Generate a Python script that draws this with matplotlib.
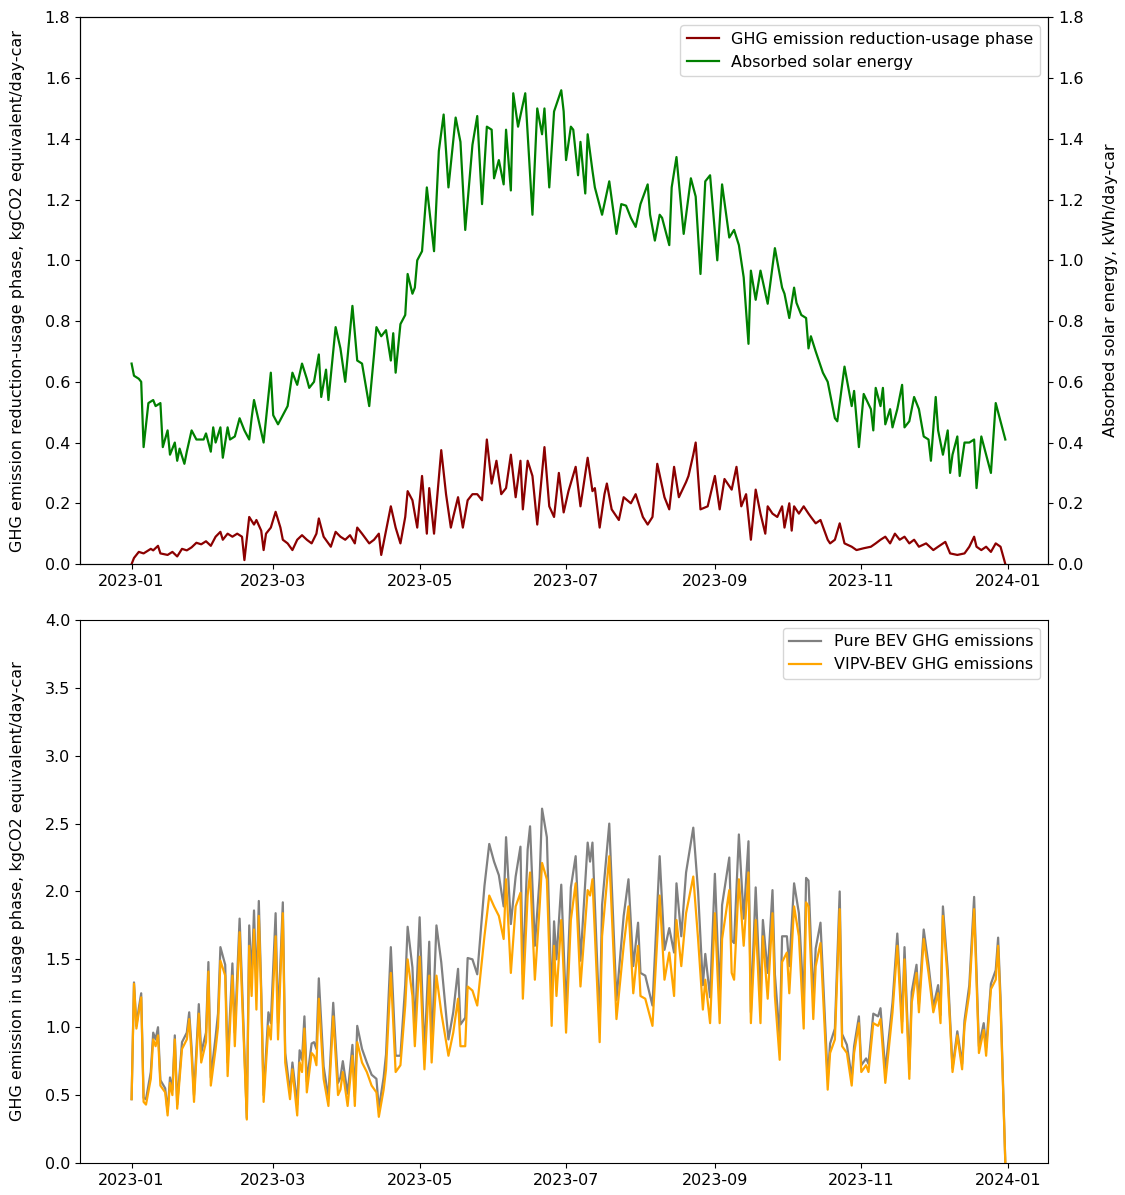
import numpy as np
import pandas as pd
import matplotlib
matplotlib.use("Agg")
import matplotlib.pyplot as plt
import matplotlib.dates as mdates

plt.rcParams["font.size"] = 11.5

start = pd.Timestamp("2023-01-01")

# (day of year offset, value)
solar = [
    (0, 0.66), (1, 0.62), (3, 0.61), (4, 0.60), (5, 0.385), (7, 0.53), (9, 0.54), (10, 0.52),
    (12, 0.53), (13, 0.385), (15, 0.44), (16, 0.36), (18, 0.40), (19, 0.34), (20, 0.38),
    (22, 0.33), (23, 0.37), (25, 0.44), (27, 0.41), (30, 0.41), (31, 0.43), (33, 0.37),
    (34, 0.45), (35, 0.40), (37, 0.45), (38, 0.35), (40, 0.45), (41, 0.41), (43, 0.42),
    (45, 0.48), (47, 0.44), (49, 0.41), (50, 0.48), (51, 0.54), (53, 0.47), (55, 0.40),
    (58, 0.63), (59, 0.49), (61, 0.46), (63, 0.49), (65, 0.52), (67, 0.63), (69, 0.59),
    (71, 0.66), (73, 0.61), (74, 0.58), (76, 0.60), (78, 0.69), (79, 0.55), (81, 0.64),
    (82, 0.54), (85, 0.78), (87, 0.71), (89, 0.60), (92, 0.85), (94, 0.67), (96, 0.66),
    (99, 0.52), (101, 0.69), (102, 0.78), (104, 0.75), (106, 0.77), (108, 0.67), (109, 0.76),
    (110, 0.63), (112, 0.79), (114, 0.82), (115, 0.955), (117, 0.89), (118, 0.91), (119, 1.0),
    (121, 1.03), (123, 1.24), (126, 1.03), (128, 1.36), (130, 1.48), (132, 1.24), (135, 1.47),
    (137, 1.39), (139, 1.10), (142, 1.38), (144, 1.475), (146, 1.185), (148, 1.44), (150, 1.43),
    (151, 1.27), (153, 1.33), (155, 1.25), (156, 1.43), (158, 1.23), (159, 1.55), (161, 1.44),
    (164, 1.55), (167, 1.15), (169, 1.50), (171, 1.415), (172, 1.50), (174, 1.24), (176, 1.49),
    (179, 1.56), (180, 1.49), (181, 1.33), (183, 1.44), (184, 1.43), (186, 1.28), (187, 1.39),
    (189, 1.22), (190, 1.415), (192, 1.295), (193, 1.24), (196, 1.15), (199, 1.26), (202, 1.087),
    (204, 1.185), (206, 1.18), (208, 1.14), (210, 1.11), (212, 1.185), (215, 1.25), (216, 1.15),
    (218, 1.065), (220, 1.15), (221, 1.14), (224, 1.05), (225, 1.24), (227, 1.34), (230, 1.087),
    (233, 1.27), (235, 1.21), (237, 0.955), (239, 1.26), (241, 1.28), (244, 1.0), (246, 1.25),
    (249, 1.075), (251, 1.10), (253, 1.05), (255, 0.944), (257, 0.725), (258, 0.966), (260, 0.87),
    (262, 0.966), (265, 0.857), (268, 1.04), (271, 0.91), (272, 0.89), (274, 0.81), (276, 0.91),
    (277, 0.86), (279, 0.82), (281, 0.81), (282, 0.71), (283, 0.75), (285, 0.70), (288, 0.63),
    (290, 0.60), (293, 0.48), (294, 0.47), (297, 0.65), (300, 0.52), (301, 0.57), (303, 0.385),
    (305, 0.56), (308, 0.51), (309, 0.44), (310, 0.58), (312, 0.52), (313, 0.58), (314, 0.46),
    (316, 0.51), (317, 0.45), (319, 0.51), (321, 0.59), (322, 0.45), (324, 0.47), (326, 0.55),
    (328, 0.51), (330, 0.42), (332, 0.41), (333, 0.34), (335, 0.55), (336, 0.44), (338, 0.36),
    (340, 0.44), (341, 0.30), (342, 0.36), (344, 0.42), (345, 0.29), (347, 0.40), (349, 0.40),
    (351, 0.41), (352, 0.25), (354, 0.42), (356, 0.36), (358, 0.30), (360, 0.53), (362, 0.47),
    (364, 0.41),
]

reduction = [
    (0, 0.0), (1, 0.02), (3, 0.04), (5, 0.035), (8, 0.05), (9, 0.045), (11, 0.06), (12, 0.035),
    (15, 0.03), (17, 0.04), (19, 0.025), (21, 0.05), (23, 0.045), (25, 0.055), (27, 0.07),
    (29, 0.065), (31, 0.075), (33, 0.06), (35, 0.09), (37, 0.106), (38, 0.08), (40, 0.10),
    (42, 0.09), (44, 0.10), (46, 0.09), (47, 0.013), (49, 0.155), (51, 0.13), (52, 0.145),
    (54, 0.11), (55, 0.046), (56, 0.10), (58, 0.12), (60, 0.172), (62, 0.12), (63, 0.08),
    (65, 0.068), (67, 0.046), (69, 0.08), (71, 0.095), (73, 0.08), (75, 0.068), (77, 0.10),
    (78, 0.15), (80, 0.09), (83, 0.057), (85, 0.106), (87, 0.09), (89, 0.08), (91, 0.095),
    (93, 0.068), (94, 0.12), (96, 0.10), (99, 0.068), (101, 0.08), (103, 0.10), (104, 0.03),
    (106, 0.11), (108, 0.19), (110, 0.12), (112, 0.068), (114, 0.155), (115, 0.24), (117, 0.21),
    (119, 0.12), (121, 0.29), (123, 0.10), (124, 0.25), (126, 0.10), (129, 0.375), (131, 0.23),
    (133, 0.12), (134, 0.155), (136, 0.22), (138, 0.12), (140, 0.21), (142, 0.23), (144, 0.23),
    (146, 0.21), (148, 0.41), (150, 0.265), (152, 0.34), (154, 0.23), (156, 0.25), (158, 0.36),
    (160, 0.22), (162, 0.34), (163, 0.18), (165, 0.34), (167, 0.29), (169, 0.13), (172, 0.385),
    (174, 0.19), (176, 0.155), (178, 0.30), (180, 0.17), (182, 0.24), (185, 0.32), (187, 0.19),
    (190, 0.35), (192, 0.24), (193, 0.25), (195, 0.12), (197, 0.23), (198, 0.265), (200, 0.18),
    (203, 0.145), (205, 0.22), (208, 0.20), (210, 0.23), (213, 0.155), (215, 0.13), (217, 0.155),
    (219, 0.33), (222, 0.22), (224, 0.18), (226, 0.32), (228, 0.22), (231, 0.27), (232, 0.29),
    (234, 0.36), (235, 0.40), (237, 0.18), (240, 0.19), (243, 0.29), (245, 0.18), (247, 0.28),
    (250, 0.245), (252, 0.32), (254, 0.19), (256, 0.23), (258, 0.08), (260, 0.245), (262, 0.166),
    (264, 0.10), (265, 0.19), (267, 0.166), (269, 0.155), (271, 0.19), (272, 0.12), (274, 0.20),
    (275, 0.11), (276, 0.19), (278, 0.166), (280, 0.19), (282, 0.166), (283, 0.155), (285, 0.134),
    (287, 0.145), (290, 0.08), (291, 0.068), (293, 0.08), (295, 0.134), (297, 0.068), (300, 0.057),
    (302, 0.046), (305, 0.052), (308, 0.057), (310, 0.068), (312, 0.08), (314, 0.09), (316, 0.068),
    (318, 0.10), (320, 0.08), (322, 0.09), (324, 0.068), (326, 0.08), (328, 0.057), (331, 0.068),
    (334, 0.046), (336, 0.057), (339, 0.073), (341, 0.035), (344, 0.03), (347, 0.035), (349, 0.057),
    (351, 0.09), (352, 0.057), (354, 0.046), (356, 0.057), (358, 0.04), (360, 0.068), (362, 0.057),
    (364, 0.0),
]

# (day offset, pure BEV, VIPV-BEV)
bev = [
    (0, 0.47, 0.47), (1, 1.33, 1.32), (2, 1.01, 0.99), (3, 1.14, 1.11), (4, 1.25, 1.22),
    (5, 0.48, 0.45), (6, 0.47, 0.43), (8, 0.67, 0.62), (9, 0.96, 0.91), (10, 0.91, 0.86),
    (11, 1.00, 0.94), (12, 0.61, 0.57), (14, 0.55, 0.52), (15, 0.38, 0.35), (16, 0.63, 0.59),
    (17, 0.54, 0.50), (18, 0.94, 0.91), (19, 0.43, 0.40), (21, 0.89, 0.84), (23, 0.96, 0.91),
    (24, 1.11, 1.06), (25, 0.85, 0.79), (26, 0.50, 0.45), (28, 1.17, 1.10), (29, 0.81, 0.74),
    (31, 0.96, 0.89), (32, 1.48, 1.41), (33, 0.63, 0.57), (35, 0.93, 0.84), (36, 1.10, 1.00),
    (37, 1.59, 1.49), (39, 1.46, 1.38), (40, 0.74, 0.64), (42, 1.47, 1.38), (43, 0.96, 0.86),
    (45, 1.80, 1.70), (46, 1.32, 1.23), (48, 0.33, 0.32), (49, 1.75, 1.60), (50, 1.36, 1.23),
    (51, 1.86, 1.72), (52, 1.27, 1.13), (53, 1.93, 1.82), (54, 1.28, 1.23), (55, 0.50, 0.45),
    (57, 1.11, 1.01), (58, 1.03, 0.91), (60, 1.84, 1.67), (61, 1.03, 0.91), (63, 1.92, 1.84),
    (64, 0.81, 0.74), (66, 0.52, 0.47), (67, 0.74, 0.69), (69, 0.43, 0.35), (70, 0.83, 0.74),
    (71, 0.76, 0.67), (72, 1.08, 0.99), (73, 0.60, 0.52), (75, 0.88, 0.81), (76, 0.89, 0.79),
    (77, 0.84, 0.72), (78, 1.36, 1.21), (80, 0.71, 0.62), (82, 0.48, 0.42), (84, 1.18, 1.08),
    (86, 0.59, 0.50), (87, 0.63, 0.54), (88, 0.75, 0.67), (90, 0.51, 0.42), (92, 0.87, 0.79),
    (93, 0.49, 0.42), (94, 1.01, 0.89), (96, 0.84, 0.74), (98, 0.74, 0.67), (100, 0.65, 0.57),
    (102, 0.62, 0.52), (103, 0.40, 0.34), (105, 0.63, 0.54), (106, 0.80, 0.69), (108, 1.59, 1.40),
    (110, 0.79, 0.67), (112, 0.79, 0.72), (114, 1.31, 1.16), (115, 1.74, 1.50), (117, 1.44, 1.23),
    (118, 0.98, 0.86), (120, 1.81, 1.52), (122, 0.79, 0.69), (124, 1.63, 1.38), (125, 0.84, 0.74),
    (127, 1.75, 1.38), (129, 1.48, 1.11), (132, 0.91, 0.79), (134, 1.11, 0.96), (136, 1.43, 1.21),
    (137, 1.02, 0.86), (139, 1.07, 0.86), (140, 1.51, 1.30), (142, 1.50, 1.27), (144, 1.39, 1.16),
    (147, 2.04, 1.67), (149, 2.35, 1.97), (151, 2.22, 1.89), (153, 2.12, 1.82), (155, 1.89, 1.65),
    (156, 2.40, 2.09), (158, 1.76, 1.40), (160, 2.11, 1.89), (162, 2.33, 1.99), (163, 1.39, 1.21),
    (165, 2.31, 1.97), (166, 2.48, 2.14), (168, 1.60, 1.35), (170, 2.10, 1.89), (171, 2.61, 2.21),
    (173, 2.40, 2.09), (175, 1.19, 1.01), (176, 1.78, 1.60), (177, 1.50, 1.23), (179, 2.05, 1.79),
    (180, 1.58, 1.40), (181, 1.12, 0.96), (183, 2.03, 1.79), (185, 2.26, 2.06), (187, 1.49, 1.30),
    (190, 2.36, 2.01), (191, 2.22, 1.97), (192, 2.36, 2.09), (195, 1.01, 0.89), (196, 1.90, 1.67),
    (199, 2.50, 2.26), (202, 1.20, 1.06), (205, 1.82, 1.60), (207, 2.09, 1.89), (209, 1.45, 1.25),
    (211, 1.77, 1.60), (212, 1.40, 1.23), (214, 1.38, 1.21), (217, 1.16, 1.01), (220, 2.26, 1.97),
    (222, 1.57, 1.35), (224, 1.73, 1.55), (226, 1.55, 1.23), (227, 2.06, 1.79), (229, 1.67, 1.45),
    (231, 2.14, 1.84), (234, 2.47, 2.11), (236, 2.00, 1.65), (238, 1.31, 1.13), (239, 1.54, 1.35),
    (241, 1.22, 1.03), (243, 2.13, 1.84), (245, 1.21, 1.03), (246, 1.90, 1.65), (249, 2.25, 2.01),
    (250, 1.64, 1.40), (251, 1.62, 1.35), (253, 2.42, 2.09), (255, 1.80, 1.60), (257, 2.37, 2.14),
    (258, 1.11, 1.03), (260, 2.03, 1.79), (262, 1.20, 1.03), (263, 1.79, 1.67), (265, 1.40, 1.21),
    (267, 2.01, 1.84), (268, 1.39, 1.23), (270, 0.92, 0.76), (271, 1.67, 1.48), (273, 1.67, 1.55),
    (274, 1.45, 1.25), (276, 2.06, 1.89), (278, 1.84, 1.67), (280, 1.18, 0.99), (281, 2.10, 1.92),
    (282, 2.08, 1.89), (284, 1.20, 1.06), (285, 1.58, 1.45), (287, 1.77, 1.62), (290, 0.62, 0.54),
    (291, 0.88, 0.81), (293, 0.99, 0.91), (295, 2.00, 1.87), (296, 0.95, 0.86), (298, 0.87, 0.81),
    (300, 0.63, 0.57), (301, 0.86, 0.81), (303, 1.08, 1.03), (304, 0.72, 0.67), (306, 0.77, 0.72),
    (307, 0.73, 0.67), (309, 1.10, 1.03), (311, 1.08, 1.01), (312, 1.14, 1.06), (314, 0.68, 0.59),
    (317, 1.18, 1.11), (319, 1.69, 1.60), (321, 1.04, 0.96), (322, 1.59, 1.50), (324, 0.69, 0.62),
    (325, 1.26, 1.18), (327, 1.46, 1.40), (328, 1.17, 1.11), (330, 1.72, 1.65), (332, 1.46, 1.40),
    (334, 1.15, 1.11), (336, 1.31, 1.25), (337, 1.09, 1.03), (338, 1.89, 1.82), (340, 1.42, 1.35),
    (342, 0.70, 0.67), (344, 0.97, 0.94), (346, 0.73, 0.69), (347, 1.05, 1.01), (349, 1.31, 1.25),
    (351, 1.96, 1.87), (353, 0.86, 0.81), (355, 1.03, 0.98), (356, 0.85, 0.79), (358, 1.32, 1.28),
    (360, 1.42, 1.35), (361, 1.66, 1.60), (362, 1.22, 1.16), (364, 0.0, 0.0),
]


def to_dates(days):
    return start + pd.to_timedelta(np.asarray(days), unit="D")


solar_d, solar_v = zip(*solar)
red_d, red_v = zip(*reduction)
bev_d, pure_v, vipv_v = zip(*bev)

xlim = (start - pd.Timedelta(days=21.5), start + pd.Timedelta(days=381.8))

fig = plt.figure(figsize=(11.25, 11.95), dpi=100)
ax1 = fig.add_axes([0.0711, 0.528, 0.8605, 0.4575])
ax2 = ax1.twinx()

l1, = ax1.plot(to_dates(red_d), red_v, color="darkred", lw=1.6,
               label="GHG emission reduction-usage phase")
l2, = ax2.plot(to_dates(solar_d), solar_v, color="green", lw=1.6,
               label="Absorbed solar energy")
ax1.set_ylim(0, 1.8)
ax2.set_ylim(0, 1.8)
ax1.set_yticks(np.arange(0, 1.81, 0.2))
ax2.set_yticks(np.arange(0, 1.81, 0.2))
ax1.set_ylabel("GHG emission reduction-usage phase, kgCO2 equivalent/day-car", labelpad=14)
ax2.set_ylabel("Absorbed solar energy, kWh/day-car", labelpad=14)
ax1.legend(handles=[l1, l2], loc="upper right")

ax3 = fig.add_axes([0.0711, 0.0268, 0.8605, 0.4544])
ax3.plot(to_dates(bev_d), pure_v, color="gray", lw=1.6, label="Pure BEV GHG emissions")
ax3.plot(to_dates(bev_d), vipv_v, color="orange", lw=1.6, label="VIPV-BEV GHG emissions")
ax3.set_ylim(0, 4.0)
ax3.set_ylabel("GHG emission in usage phase, kgCO2 equivalent/day-car", labelpad=14)
ax3.legend(loc="upper right")

for ax in (ax1, ax3):
    ax.set_xlim(xlim)
    ax.xaxis.set_major_locator(mdates.MonthLocator(bymonth=[1, 3, 5, 7, 9, 11]))
    ax.xaxis.set_major_formatter(mdates.DateFormatter("%Y-%m"))

fig.savefig("out.png", dpi=100)
